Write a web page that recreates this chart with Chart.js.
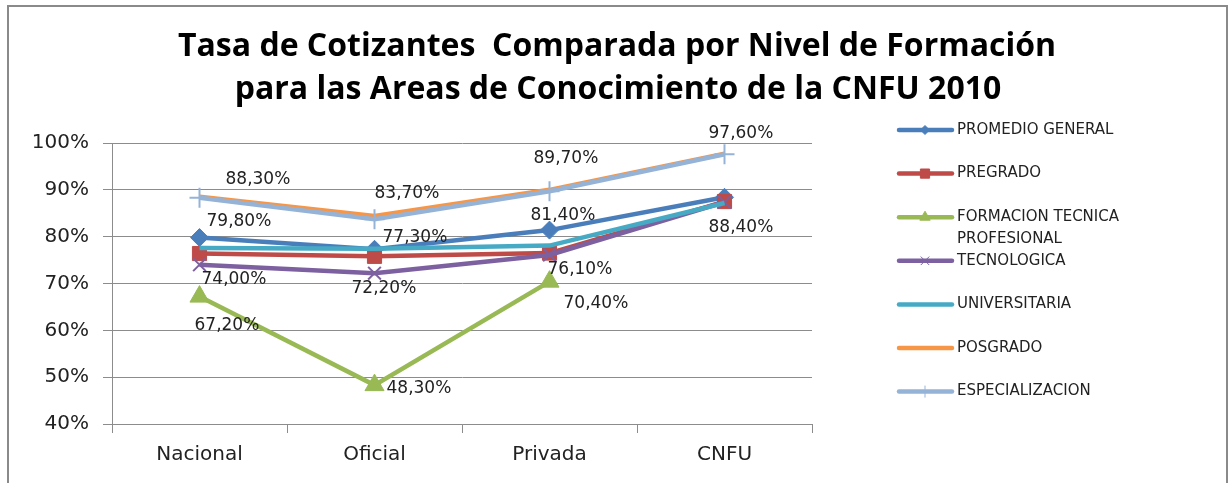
<!DOCTYPE html>
<html>
<head>
<meta charset="utf-8">
<script src="https://cdn.jsdelivr.net/npm/chart.js@4/dist/chart.umd.min.js"></script>
<style>
  body { margin: 0; background: #fff; }
  canvas { display: block; }
</style>
</head>
<body>
<canvas id="tasaChart" width="1230" height="483"></canvas>
<script>
// Data
const categories = ["Nacional", "Oficial", "Privada", "CNFU"];
const seriesNames = ["PROMEDIO GENERAL", "PREGRADO", "FORMACION TECNICA PROFESIONAL", "TECNOLOGICA", "UNIVERSITARIA", "POSGRADO", "ESPECIALIZACION"];
const promedioGeneral = [79.8, 77.3, 81.4, 88.4];
const pregrado = [76.4, 75.8, 76.5, 87.5];
const formacionTecnica = [67.2, 48.3, 70.4, null];
const tecnologica = [74.0, 72.2, 76.1, 87.4];
const universitaria = [77.6, 77.4, 78.1, 87.2];
const posgrado = [88.5, 84.4, 90.0, 97.7];
const especializacion = [88.3, 83.7, 89.7, 97.6];
const yTicks = [40, 50, 60, 70, 80, 90, 100];
const titleLines = ["Tasa de Cotizantes  Comparada por Nivel de Formación", "para las Areas de Conocimiento de la CNFU 2010"];

const allSeries = [promedioGeneral, pregrado, formacionTecnica, tecnologica, universitaria, posgrado, especializacion];

// styles per series (Excel 2007 palette)
const colors = ["#4a7ebb", "#be4b48", "#98b954", "#7d60a0", "#46aac5", "#f79646", "#95b3d7"];
const markers = [
  { style: "rectRot", r: 9, bw: 1, lr: 4.5 },
  { style: "rect", r: 10, bw: 1, lr: 6.5 },
  { style: "triangle", r: 11, bw: 1, lr: 6 },
  { style: "crossRot", r: 9, bw: 2, lr: 6 },
  { style: "circle", r: 0, bw: 0, lr: 0 },
  { style: "circle", r: 0, bw: 0, lr: 0 },
  { style: "cross", r: 10, bw: 2, lr: 6 }
];

// which data labels are shown, with offsets (left edge / middle) from the point
const labelOffsets = {
  0: [[7, -16], [8, -12], [-19, -15], [-16, 30]],
  2: [[-5, 29], [12, 3], [14, 22], null],
  3: [[2, 15], [-23, 15], [-2, 15], null],
  6: [[26, -18], [0, -26], [-16, -33], [-16, -21]]
};

const fmt = v => v.toFixed(2).replace(".", ",") + "%";
const gridColor = "#8c8c8c";
const textFont = '"DejaVu Sans", sans-serif';
const titleFont = '"Open Sans", "DejaVu Sans", sans-serif';

const datasets = allSeries.map((data, i) => ({
  label: seriesNames[i],
  data: data,
  borderColor: colors[i],
  backgroundColor: colors[i],
  borderWidth: 4.5,
  pointStyle: markers[i].style,
  pointRadius: markers[i].r,
  pointHoverRadius: markers[i].r,
  pointBorderWidth: markers[i].bw,
  pointBorderColor: colors[i],
  pointBackgroundColor: colors[i],
  tension: 0,
  spanGaps: false,
  order: allSeries.length - i
}));

// frame, title, data labels and legend
const extrasPlugin = {
  id: "extras",
  afterDraw(chart) {
    const c = chart.ctx;
    c.save();
    // outer frame
    c.strokeStyle = "#8a8a8a";
    c.lineWidth = 2;
    c.beginPath();
    c.moveTo(8, 483);
    c.lineTo(8, 6);
    c.lineTo(1227, 6);
    c.lineTo(1227, 483);
    c.stroke();

    // title
    c.fillStyle = "#000";
    c.textAlign = "center";
    c.textBaseline = "middle";
    c.font = "bold 32px " + titleFont;
    c.fillText(titleLines[0], 617, 47);
    c.fillText(titleLines[1], 618, 90);

    // data labels
    c.font = "17px " + textFont;
    c.fillStyle = "#222";
    c.textAlign = "left";
    Object.keys(labelOffsets).forEach(k => {
      const di = +k;
      const meta = chart.getDatasetMeta(di);
      labelOffsets[k].forEach((off, j) => {
        const v = chart.data.datasets[di].data[j];
        if (!off || v == null) return;
        const pt = meta.data[j];
        c.fillText(fmt(v), pt.x + off[0], pt.y + off[1]);
      });
    });

    // legend
    c.font = "15px " + textFont;
    c.textBaseline = "middle";
    let y = 130;
    chart.data.datasets.forEach((ds, i) => {
      c.strokeStyle = ds.borderColor;
      c.lineWidth = 4.5;
      c.lineCap = "round";
      c.beginPath();
      c.moveTo(899, y);
      c.lineTo(952, y);
      c.stroke();
      c.lineCap = "butt";
      if (markers[i].lr > 0 && Chart.helpers && Chart.helpers.drawPoint) {
        c.fillStyle = ds.borderColor;
        c.lineWidth = 1;
        Chart.helpers.drawPoint(c, {
          pointStyle: markers[i].style,
          radius: markers[i].lr,
          rotation: 0,
          borderWidth: 1
        }, 925, y);
      }
      c.fillStyle = "#222";
      if (ds.label === "FORMACION TECNICA PROFESIONAL") {
        c.fillText("FORMACION TECNICA", 957, y);
        c.fillText("PROFESIONAL", 957, y + 22);
      } else {
        c.fillText(ds.label, 957, y);
      }
      y += 43.6;
    });
    c.restore();
  }
};

new Chart(document.getElementById("tasaChart"), {
  type: "line",
  data: {
    labels: categories,
    datasets: datasets
  },
  options: {
    responsive: false,
    devicePixelRatio: 1,
    animation: false,
    layout: { padding: { left: 0, right: 418, top: 143, bottom: 0 } },
    plugins: {
      legend: { display: false },
      title: { display: false },
      tooltip: { enabled: false }
    },
    scales: {
      x: {
        offset: true,
        afterFit: s => { s.height = 59; },
        grid: {
          offset: true,
          drawOnChartArea: false,
          drawTicks: true,
          tickLength: 9,
          color: gridColor
        },
        border: { color: gridColor, width: 1 },
        ticks: {
          color: "#222",
          padding: 10,
          font: { family: textFont, size: 20 }
        }
      },
      y: {
        min: yTicks[0],
        max: yTicks[yTicks.length - 1],
        afterFit: s => { s.width = 112; },
        afterBuildTicks: s => { s.ticks = yTicks.map(v => ({ value: v })); },
        grid: { color: gridColor, tickLength: 9 },
        border: { color: gridColor, width: 1 },
        ticks: {
          color: "#222",
          padding: 14,
          font: { family: textFont, size: 20 },
          callback: v => v + "%"
        }
      }
    }
  },
  plugins: [extrasPlugin]
});
</script>
</body>
</html>
